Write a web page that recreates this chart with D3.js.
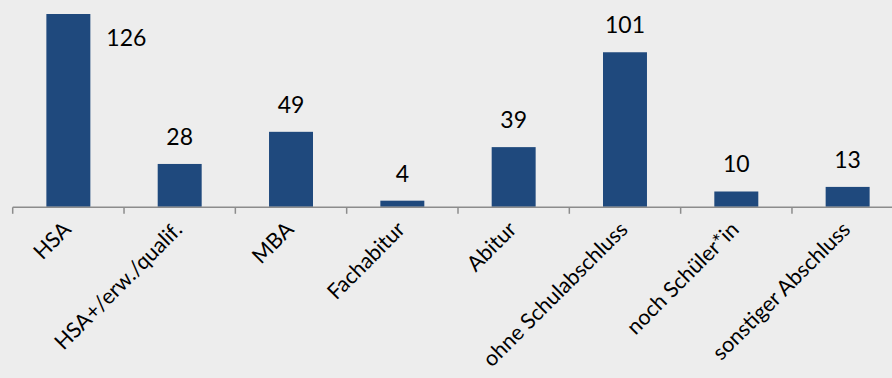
<!DOCTYPE html>
<html>
<head>
<meta charset="utf-8">
<script src="https://cdn.jsdelivr.net/npm/d3@7"></script>
<style>
  html, body { margin: 0; padding: 0; background: #ededed; }
  svg { display: block; }
  text { font-family: Lato, "Open Sans", sans-serif; fill: #000; }
</style>
</head>
<body>
<svg id="chart" width="892" height="378"></svg>
<script>
// Schulabschlüsse – Anzahl je Abschlussart
const categories = [
  "HSA",
  "HSA+/erw./qualif.",
  "MBA",
  "Fachabitur",
  "Abitur",
  "ohne Schulabschluss",
  "noch Schüler*in",
  "sonstiger Abschluss"
];
const values = [126, 28, 49, 4, 39, 101, 10, 13];

const W = 892, H = 378;
const svg = d3.select("#chart");
svg.append("rect").attr("width", W).attr("height", H).attr("fill", "#ededed");

const axisY = 206.8;
const plotLeft = 12.7, plotRight = 903.3, plotTop = 14;
const valueFont = 23;
const labelFont = 21.5;
const barColor = "#1f497d";

const x = d3.scaleBand()
  .domain(categories)
  .range([plotLeft, plotRight])
  .paddingInner(0.605)
  .paddingOuter(0.3025);

const y = d3.scaleLinear()
  .domain([0, d3.max(values)])
  .range([axisY, plotTop]);

const data = categories.map((c, i) => ({ cat: c, val: values[i] }));

// Bars
svg.append("g").selectAll("rect")
  .data(data)
  .join("rect")
  .attr("x", d => x(d.cat))
  .attr("y", d => y(d.val))
  .attr("width", x.bandwidth())
  .attr("height", d => axisY - y(d.val))
  .attr("fill", barColor);

// Value labels: above the bar, or beside it when there is no room above
const noRoom = d => y(d.val) - 19 - 16 < 0;
svg.append("g").selectAll("text")
  .data(data)
  .join("text")
  .attr("font-size", valueFont)
  .attr("text-anchor", d => noRoom(d) ? "start" : "middle")
  .attr("x", d => noRoom(d)
      ? x(d.cat) + x.bandwidth() + 16
      : x(d.cat) + x.bandwidth() / 2)
  .attr("y", d => noRoom(d) ? y(d.val) + 32 : y(d.val) - 19)
  .text(d => d.val);

// Category axis: baseline with ticks at the band boundaries
const axisG = svg.append("g");
axisG.append("line")
  .attr("x1", plotLeft).attr("x2", plotRight)
  .attr("y1", axisY + 0.5).attr("y2", axisY + 0.5)
  .attr("stroke", "#8c8c8c").attr("stroke-width", 1.5);

const step = x.step();
const boundaries = d3.range(categories.length + 1).map(i => plotLeft + i * step);
axisG.selectAll("line.tick")
  .data(boundaries)
  .join("line")
  .attr("class", "tick")
  .attr("x1", d => d).attr("x2", d => d)
  .attr("y1", axisY + 0.5).attr("y2", axisY + 7)
  .attr("stroke", "#8c8c8c").attr("stroke-width", 1.5);

// Rotated category labels
const labelAxis = d3.axisBottom(x).tickSize(0).tickPadding(0);
const lg = svg.append("g")
  .attr("transform", `translate(0,${axisY})`)
  .call(labelAxis);
lg.select(".domain").remove();
lg.selectAll(".tick text")
  .attr("font-size", labelFont)
  .attr("font-family", "Lato, 'Open Sans', sans-serif")
  .attr("fill", "#000")
  .attr("text-anchor", "end")
  .attr("dy", null)
  .attr("y", 0)
  .attr("transform", "translate(4,24) rotate(-45)");
</script>
</body>
</html>
